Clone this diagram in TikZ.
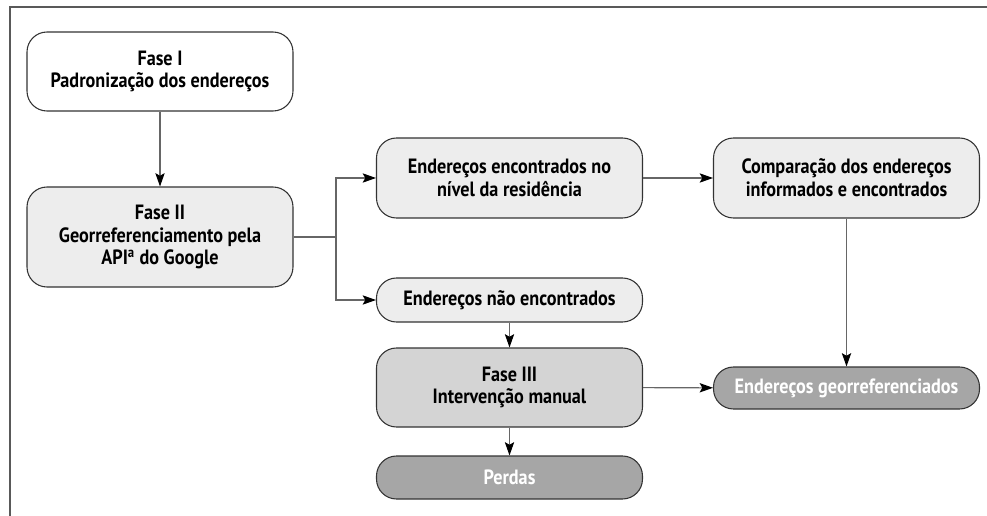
\documentclass[tikz,border=0pt]{standalone}
\usepackage{fontspec}
\usepackage{tikz}
\usetikzlibrary{positioning,arrows.meta}
\newfontfamily\boxfont{PT Sans}[FakeStretch=0.88]

\begin{document}
\begin{tikzpicture}[
            x=0.75pt, y=-0.75pt,
            >={Stealth[length=10pt,width=7pt,inset=2pt,color=black]},
            link/.style={draw=black!60, line width=0.8pt},
            stage/.style={draw=black!80, line width=0.8pt, rounded corners=15pt,
                minimum width=199.5pt, align=center, inner sep=2pt,
                font=\boxfont\bfseries\fontsize{15.5pt}{17pt}\selectfont},
            light/.style={stage, fill=black!7},
            mid/.style={stage, fill=black!17},
            dark/.style={stage, fill=black!35, text=white},
        ]

        \useasboundingbox (0,0) rectangle (987,516);

        % Frame
        \draw[black!65, line width=1pt] (987,7) -- (10,7) -- (10,516);

        % Left column
        \node[stage, fill=white, minimum height=59.25pt] (fase1) at (160,71.5)
            {Fase I\\Padronização dos endereços};
        \node[light, minimum height=75pt] (fase2) at (160,237)
            {Fase II\\Georreferenciamento pela\\API\textsuperscript{a} do Google};

        % Middle column
        \node[light, minimum height=60pt] (encontrados) at (509.5,178)
            {Endereços encontrados no\\nível da residência};
        \node[light, minimum height=33pt] (naoenc) at (509.5,300)
            {Endereços não encontrados};
        \node[mid, minimum height=59.25pt] (fase3) at (509.5,387.5)
            {Fase III\\Intervenção manual};
        \node[dark, minimum height=32.25pt] (perdas) at (509.5,477.5)
            {Perdas};

        % Right column
        \node[light, minimum height=60pt] (comparacao) at (846.5,178)
            {Comparação dos endereços\\informados e encontrados};
        \node[dark, minimum height=31.5pt] (georef) at (846.5,388)
            {Endereços georreferenciados};

        % Branch point
        \coordinate (j) at (336,237);

        % Connections
        \draw[link, ->] (fase1) -- (fase2);
        \draw[link] (fase2) -- (j);
        \draw[link, ->] (j) |- (encontrados);
        \draw[link, ->] (j) |- (naoenc);
        \draw[link, ->] (encontrados) -- (comparacao);
        \draw[link, ->] (naoenc) -- (fase3);
        \draw[link, ->] (fase3) -- (perdas);
        \draw[link, ->] (fase3) -- (georef);
        \draw[link, ->] (comparacao) -- (georef);

    \end{tikzpicture}
\end{document}
